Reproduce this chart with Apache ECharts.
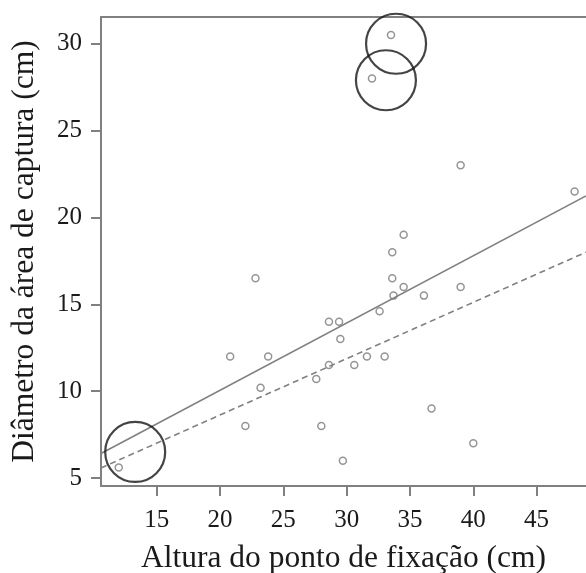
<!DOCTYPE html>
<html>
<head>
<meta charset="utf-8">
<script src="https://cdn.jsdelivr.net/npm/echarts@6/dist/echarts.min.js"></script>
<style>
  html, body { margin: 0; padding: 0; background: #fff; }
  #chart { width: 586px; height: 573px; }
</style>
</head>
<body>
<div id="chart"></div>
<script>
// altura do ponto de fixação (cm) x diâmetro da área de captura (cm)
var pontos = [
  [12.0, 5.6], [20.8, 12.0], [22.0, 8.0], [22.8, 16.5], [23.2, 10.2],
  [23.8, 12.0], [27.6, 10.7], [28.0, 8.0], [28.6, 11.5], [28.6, 14.0],
  [29.4, 14.0], [29.5, 13.0], [29.7, 6.0], [30.6, 11.5], [31.6, 12.0],
  [32.0, 28.0], [32.6, 14.6], [33.0, 12.0], [33.5, 30.5], [33.6, 18.0],
  [33.6, 16.5], [33.7, 15.5], [34.5, 19.0], [34.5, 16.0], [36.1, 15.5],
  [36.7, 9.0], [39.0, 23.0], [39.0, 16.0], [40.0, 7.0], [48.0, 21.5]
];
// pontos destacados (círculos grandes)
var destaques = [[33.9, 30.0], [33.1, 27.9], [13.3, 6.5]];
// retas ajustadas
var retaCheia = [[10.6, 6.41], [48.9, 21.24]];
var retaTracejada = [[10.6, 5.58], [48.9, 18.0]];
var ticksX = [15, 20, 25, 30, 35, 40, 45];
var ticksY = [5, 10, 15, 20, 25, 30];

var fonte = '"Liberation Serif", "Times New Roman", serif';
var cinza = '#808080';

var chart = echarts.init(document.getElementById('chart'));
chart.setOption({
  animation: false,
  backgroundColor: '#fff',
  grid: { left: 101, top: 17, right: 0, bottom: 87, outerBoundsMode: 'none', containLabel: false },
  xAxis: [{
    type: 'value',
    min: 10.6,
    max: 48.9,
    name: 'Altura do ponto de fixação (cm)',
    nameLocation: 'middle',
    nameGap: 57,
    nameTextStyle: { fontFamily: fonte, fontSize: 31.5, color: '#1a1a1a' },
    axisLine: { show: true, lineStyle: { color: cinza, width: 2 } },
    axisTick: { show: true, length: 10, lineStyle: { color: cinza, width: 2 }, customValues: ticksX },
    axisLabel: { margin: 22, fontFamily: fonte, fontSize: 25, color: '#1a1a1a', customValues: ticksX },
    splitLine: { show: false }
  }, {
    type: 'value',
    position: 'top',
    min: 10.6,
    max: 48.9,
    axisLine: { show: true, onZero: false, lineStyle: { color: cinza, width: 2 } },
    axisTick: { show: false },
    axisLabel: { show: false },
    splitLine: { show: false }
  }],
  yAxis: {
    type: 'value',
    min: 4.54,
    max: 31.54,
    name: 'Diâmetro da área de captura (cm)',
    nameLocation: 'middle',
    nameGap: 60,
    nameTextStyle: { fontFamily: fonte, fontSize: 31.5, color: '#1a1a1a' },
    axisLine: { show: true, lineStyle: { color: cinza, width: 2 } },
    axisTick: { show: true, length: 10, lineStyle: { color: cinza, width: 2 }, customValues: ticksY },
    axisLabel: { margin: 19, fontFamily: fonte, fontSize: 25, color: '#1a1a1a', customValues: ticksY },
    splitLine: { show: false }
  },
  series: [{
    type: 'line',
    data: retaCheia,
    showSymbol: false,
    lineStyle: { color: cinza, width: 1.6 },
    z: 1
  }, {
    type: 'line',
    data: retaTracejada,
    showSymbol: false,
    lineStyle: { color: cinza, width: 1.6, type: [6, 4] },
    z: 1
  }, {
    type: 'scatter',
    data: pontos,
    symbol: 'circle',
    symbolSize: 7,
    itemStyle: { color: 'transparent', borderColor: '#7a7a7a', borderWidth: 1.5 },
    z: 3
  }, {
    type: 'scatter',
    data: destaques,
    symbol: 'circle',
    symbolSize: 60,
    itemStyle: { color: 'transparent', borderColor: '#151515', borderWidth: 2.2 },
    z: 4
  }]
});
</script>
</body>
</html>
